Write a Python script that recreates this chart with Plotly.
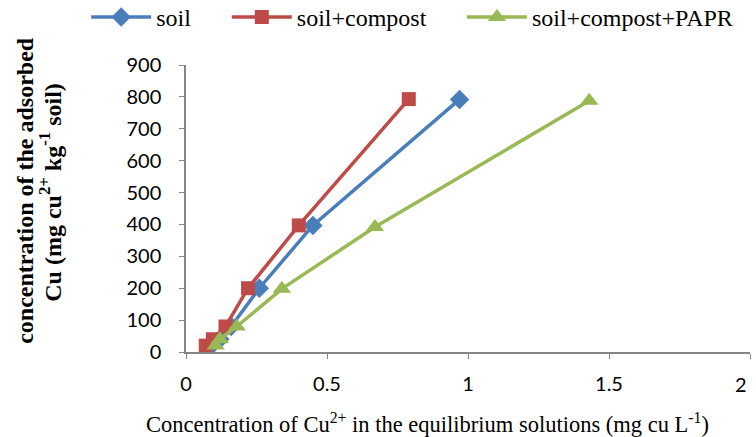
import plotly.graph_objects as go

soil_x = [0.09, 0.12, 0.16, 0.26, 0.45, 0.97]
soil_y = [20, 40, 80, 200, 397, 792]
compost_x = [0.07, 0.095, 0.14, 0.22, 0.40, 0.79]
compost_y = [20, 40, 80, 200, 397, 793]
papr_x = [0.105, 0.12, 0.18, 0.34, 0.67, 1.43]
papr_y = [20, 40, 80, 198, 392, 788]

x_ticks = [0, 0.5, 1, 1.5, 2]
x_labels = ["0", "0.5", "1", "1.5", "2"]
y_ticks = [0, 100, 200, 300, 400, 500, 600, 700, 800, 900]

fig = go.Figure()
fig.add_trace(go.Scatter(x=soil_x, y=soil_y, name="soil", mode="lines+markers", legend="legend",
                         line=dict(color="#4A7EBB", width=3.5),
                         marker=dict(symbol="diamond", size=15, color="#4A7EBB")))
fig.add_trace(go.Scatter(x=compost_x, y=compost_y, name="soil+compost", mode="lines+markers", legend="legend2",
                         line=dict(color="#BE4B48", width=3.5),
                         marker=dict(symbol="square", size=14, color="#BE4B48")))
fig.add_trace(go.Scatter(x=papr_x, y=papr_y, name="soil+compost+PAPR", mode="lines+markers", legend="legend3",
                         line=dict(color="#98B954", width=3.5),
                         marker=dict(symbol="triangle-up", size=16, color="#98B954")))

axis_common = dict(showgrid=False, zeroline=False, showline=True, linecolor="#868686",
                   linewidth=1.5, ticks="outside", tickcolor="#868686", ticklen=5,
                   automargin=False,
                   tickfont=dict(family="Lato", size=20, color="#000000"))

# last x label drawn as annotation (shifted inward like the reference)
fig.update_xaxes(range=[0, 2], tickvals=x_ticks, ticktext=x_labels[:-1] + [""],
                 ticklabelstandoff=8, **axis_common)
fig.update_yaxes(range=[0, 900], tickvals=y_ticks, ticklabelstandoff=14, **axis_common)

fig.add_annotation(text=x_labels[-1], x=x_ticks[-1], y=0, xref="x", yref="y",
                   xanchor="center", yanchor="top", xshift=-9, yshift=-18, showarrow=False,
                   font=dict(family="Lato", size=20, color="#000000"))

fig.add_annotation(text="Concentration of Cu<sup>2+</sup> in the equilibrium solutions (mg cu L<sup>-1</sup>)",
                   xref="paper", yref="paper", x=0.429, y=-0.246, xanchor="center", yanchor="middle",
                   showarrow=False, font=dict(family="Liberation Serif", size=22.5, color="#000000"))

fig.add_annotation(text="<b>concentration of the adsorbed</b>", textangle=-90,
                   xref="paper", yref="paper", x=-0.286, y=0.564, xanchor="center", yanchor="middle",
                   showarrow=False, font=dict(family="Liberation Serif", size=24, color="#000000"))
fig.add_annotation(text="<b>Cu (mg cu<sup>2+</sup> kg<sup>-1</sup> soil)</b>", textangle=-90,
                   xref="paper", yref="paper", x=-0.240, y=0.557, xanchor="center", yanchor="middle",
                   showarrow=False, font=dict(family="Liberation Serif", size=24, color="#000000"))

leg_common = dict(orientation="h", xref="container", yref="container", y=0.96,
                  xanchor="left", yanchor="middle", itemwidth=60,
                  font=dict(family="Liberation Serif", size=24, color="#000000"),
                  bgcolor="rgba(0,0,0,0)")

fig.update_layout(
    width=756, height=437,
    margin=dict(l=185.5, r=5.5, t=65, b=85, autoexpand=False),
    plot_bgcolor="white", paper_bgcolor="white",
    showlegend=True,
    legend=dict(x=0.114, **leg_common),
    legend2=dict(x=0.30, **leg_common),
    legend3=dict(x=0.611, **leg_common),
)

fig.write_html("out.html", config={"displayModeBar": False},
               post_script="document.body.style.margin='0';")
